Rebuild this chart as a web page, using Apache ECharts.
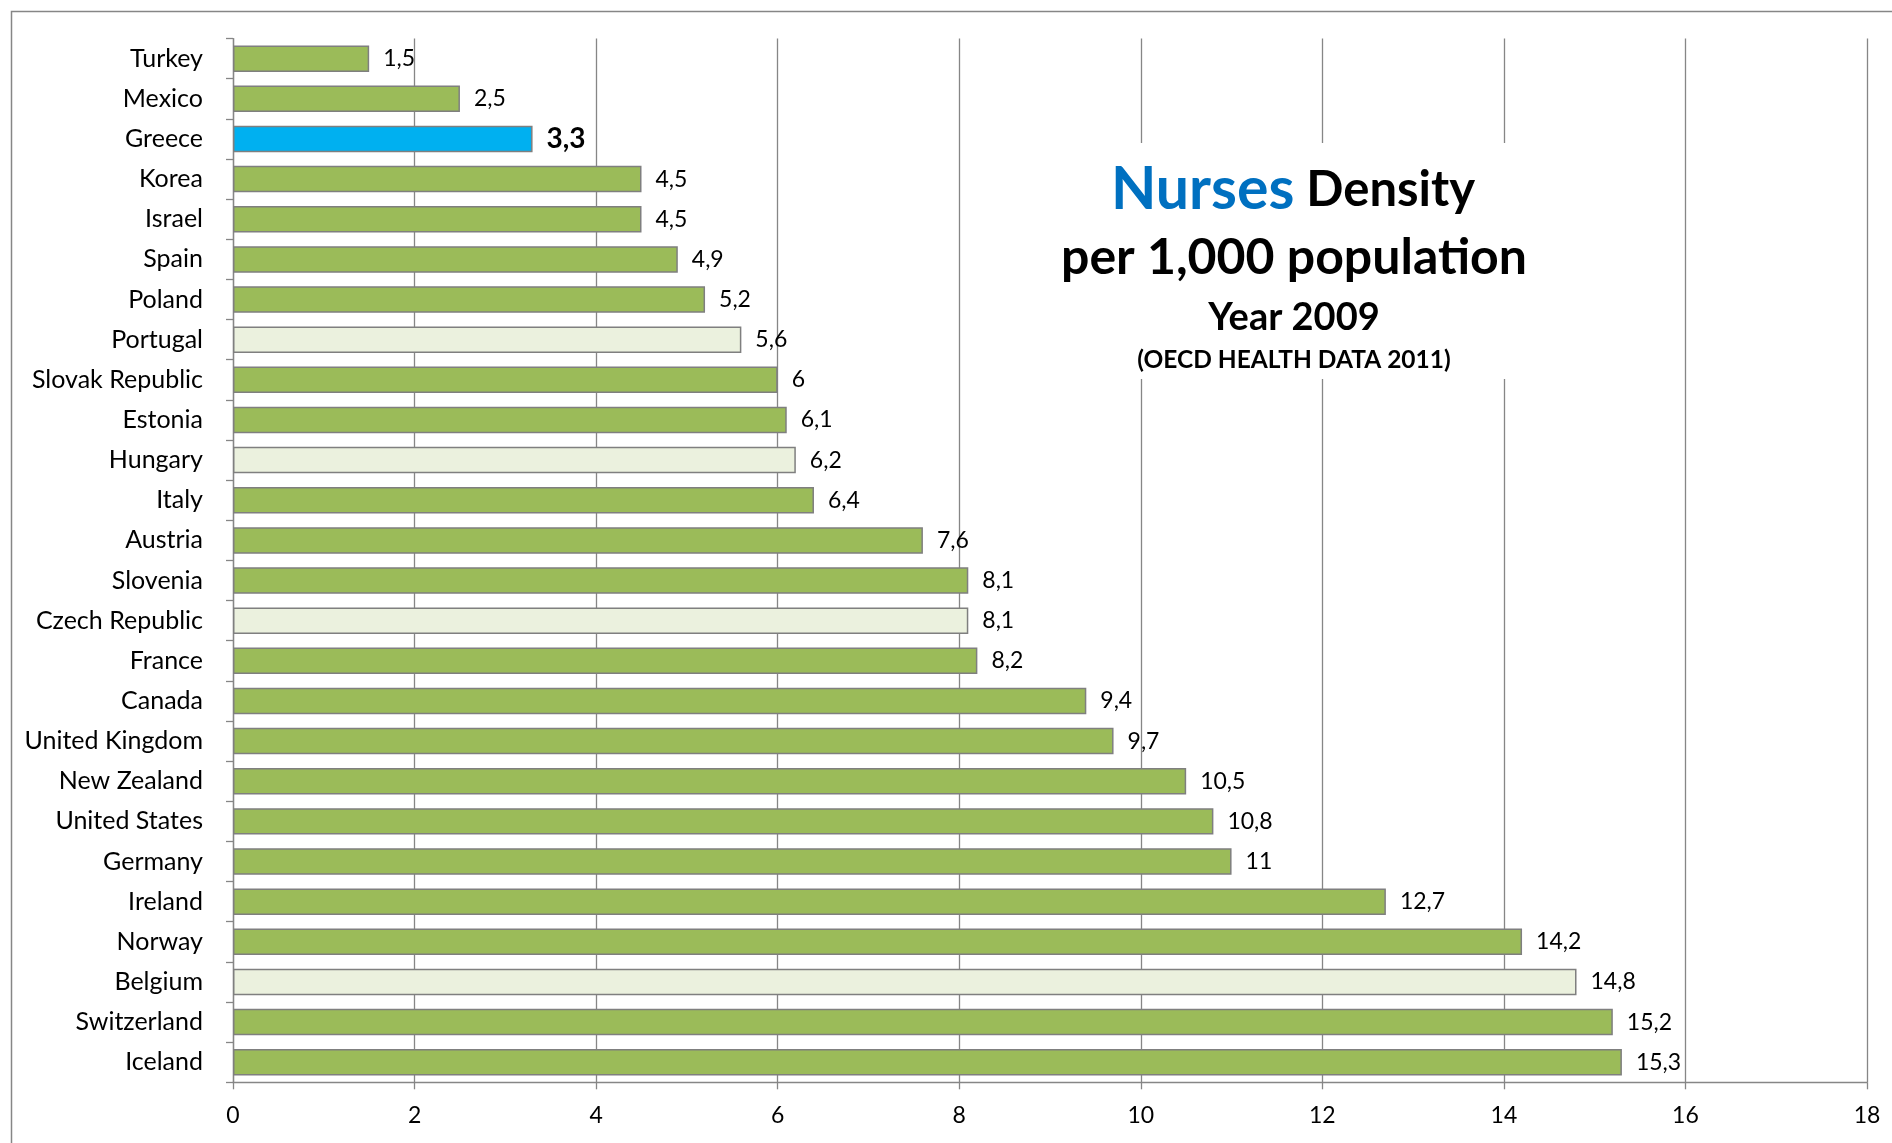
<!DOCTYPE html>
<html>
<head>
<meta charset="utf-8">
<script src="https://cdn.jsdelivr.net/npm/echarts@6/dist/echarts.min.js"></script>
<style>
html,body{margin:0;padding:0;background:#fff;}
#chart{width:1892px;height:1143px;}
</style>
</head>
<body>
<div id="chart"></div>
<script>
const categories = ['Turkey','Mexico','Greece','Korea','Israel','Spain','Poland','Portugal','Slovak Republic','Estonia','Hungary','Italy','Austria','Slovenia','Czech Republic','France','Canada','United Kingdom','New Zealand','United States','Germany','Ireland','Norway','Belgium','Switzerland','Iceland'];
const values = [1.5,2.5,3.3,4.5,4.5,4.9,5.2,5.6,6,6.1,6.2,6.4,7.6,8.1,8.1,8.2,9.4,9.7,10.5,10.8,11,12.7,14.2,14.8,15.2,15.3];
const lightCountries = ['Portugal','Hungary','Czech Republic','Belgium'];
const highlightCountry = 'Greece';
const xTicks = [0,2,4,6,8,10,12,14,16,18];

const FONT = 'Lato';
const GREEN = '#9BBB59', LIGHT = '#EBF1DE', BLUE = '#00B0F0';

const seriesData = categories.map((c, i) => {
  let color = GREEN;
  if (lightCountries.includes(c)) color = LIGHT;
  if (c === highlightCountry) color = BLUE;
  const item = { value: values[i], itemStyle: { color: color } };
  if (c === highlightCountry) {
    item.label = { fontWeight: 'bold', fontSize: 28 };
  }
  return item;
});

const chart = echarts.init(document.getElementById('chart'), null, { renderer: 'canvas' });
chart.setOption({
  backgroundColor: '#fff',
  animation: false,
  grid: { left: 233, right: 25, top: 38.6, bottom: 60.7, containLabel: false },
  xAxis: {
    type: 'value',
    min: xTicks[0], max: xTicks[xTicks.length - 1], interval: 2,
    axisLine: { show: true, lineStyle: { color: '#868686', width: 1.3 } },
    axisTick: { show: true, length: 7, lineStyle: { color: '#868686', width: 1.3 } },
    splitLine: { show: true, lineStyle: { color: '#868686', width: 1.3 } },
    axisLabel: { color: '#000', fontFamily: FONT, fontSize: 23, margin: 22 }
  },
  yAxis: {
    type: 'category',
    inverse: true,
    data: categories,
    axisLine: { show: true, lineStyle: { color: '#868686', width: 1.3 } },
    axisTick: { show: true, length: 7, alignWithLabel: false, lineStyle: { color: '#868686', width: 1.3 } },
    axisLabel: { color: '#000', fontFamily: FONT, fontSize: 25, margin: 30 },
    splitLine: { show: false }
  },
  series: [{
    type: 'bar',
    data: seriesData,
    barCategoryGap: '34%',
    itemStyle: { borderColor: '#7F7F7F', borderWidth: 1.5 },
    label: {
      show: true, position: 'right', distance: 14,
      color: '#000', fontFamily: FONT, fontSize: 23,
      formatter: p => String(p.value).replace('.', ',')
    },
    z: 3
  }],
  graphic: [
    { type: 'rect', left: 9, top: 9, shape: { x: 0, y: 0, width: 2000, height: 2000 },
      style: { fill: 'none', stroke: '#868686', lineWidth: 1.5 }, z: 1, silent: true },
    { type: 'rect', shape: { x: 1050, y: 143, width: 490, height: 236 },
      style: { fill: '#fff' }, z: 10, silent: true },
    { type: 'text', x: 1293, y: 190, z: 11,
      style: { text: '{a|Nurses}{b| Density}', align: 'center', verticalAlign: 'middle',
        rich: {
          a: { fontFamily: FONT, fontWeight: 'bold', fontSize: 59, fill: '#0070C0' },
          b: { fontFamily: FONT, fontWeight: 'bold', fontSize: 49, fill: '#000' }
        } } },
    { type: 'text', x: 1294, y: 258, z: 11,
      style: { text: 'per 1,000 population', align: 'center', verticalAlign: 'middle',
        fontFamily: FONT, fontWeight: 'bold', fontSize: 50, fill: '#000' } },
    { type: 'text', x: 1294, y: 318, z: 11,
      style: { text: 'Year 2009', align: 'center', verticalAlign: 'middle',
        fontFamily: FONT, fontWeight: 'bold', fontSize: 38, fill: '#000' } },
    { type: 'text', x: 1294, y: 360, z: 11,
      style: { text: '(OECD HEALTH DATA 2011)', align: 'center', verticalAlign: 'middle',
        fontFamily: FONT, fontWeight: 'bold', fontSize: 24.5, fill: '#000' } }
  ]
});
</script>
</body>
</html>
